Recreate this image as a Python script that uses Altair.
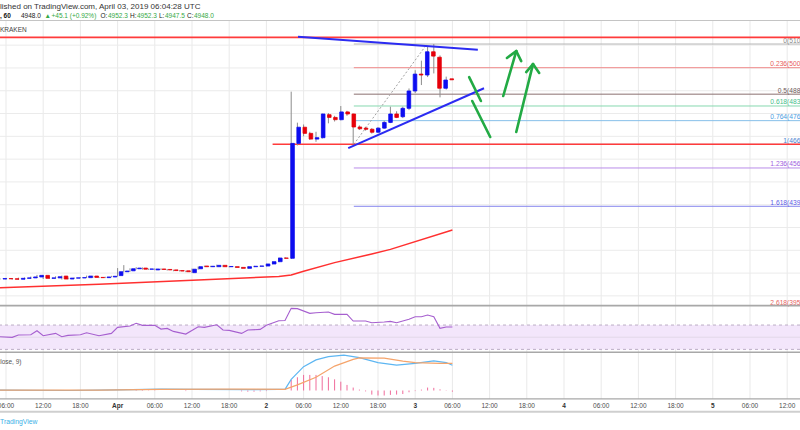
import altair as alt
import pandas as pd
import numpy as np

# ---------------- data (x = hours since 2019-03-31 06:00 UTC, 1 candle / hour) ----------------
hours = list(range(-1, 73))
opens = [4074, 4076, 4075, 4073, 4077, 4079, 4083, 4090, 4077, 4079,
         4087, 4074, 4078, 4079, 4080, 4087, 4081, 4080, 4083, 4089,
         4106, 4110, 4119, 4122, 4117, 4114, 4118, 4116, 4114, 4111,
         4110, 4102, 4119, 4131, 4128, 4128, 4134, 4128, 4128, 4125,
         4121, 4128, 4130, 4131, 4140, 4150, 4166, 4165, 4669, 4740,
         4713, 4688, 4694, 4795, 4783, 4773, 4807, 4798, 4741, 4736,
         4731, 4718, 4736, 4761, 4798, 4786, 4823, 4899, 4973, 4969,
         5071, 5047, 4911, 4952.3]
highs = [4078, 4079, 4078, 4080, 4081, 4085, 4092, 4092, 4081, 4086,
         4089, 4080, 4081, 4082, 4089, 4089, 4083, 4084, 4088, 4122,
         4135, 4121, 4126, 4125, 4120, 4121, 4121, 4118, 4115, 4113,
         4111, 4120, 4129, 4133, 4132, 4137, 4136, 4131, 4130, 4127,
         4130, 4132, 4133, 4141, 4151, 4168, 4170, 4896, 4760, 4752,
         4720, 4720, 4800, 4802, 4790, 4833, 4812, 4800, 4748, 4742,
         4736, 4740, 4768, 4830, 4810, 4830, 4910, 4990, 5032, 5096,
         5105, 5055, 4962, 4952.3]
lows = [4071, 4072, 4071, 4071, 4075, 4077, 4081, 4074, 4075, 4077,
        4072, 4072, 4076, 4077, 4079, 4079, 4078, 4078, 4082, 4085,
        4104, 4106, 4116, 4115, 4114, 4112, 4114, 4111, 4108, 4107,
        4104, 4100, 4115, 4126, 4126, 4126, 4126, 4125, 4123, 4119,
        4119, 4126, 4128, 4129, 4138, 4148, 4163, 4162, 4660, 4700,
        4685, 4676, 4690, 4757, 4765, 4770, 4790, 4665, 4728, 4725,
        4712, 4715, 4733, 4758, 4780, 4780, 4815, 4890, 4925, 4960,
        4976, 4871, 4905, 4947.5]
closes = [4076, 4075, 4073, 4077, 4079, 4083, 4090, 4077, 4079, 4084,
          4074, 4078, 4079, 4080, 4087, 4081, 4080, 4083, 4086, 4106,
          4109, 4119, 4122, 4117, 4118, 4118, 4116, 4114, 4111, 4109,
          4106, 4117, 4128, 4128, 4130, 4134, 4128, 4129, 4125, 4121,
          4128, 4130, 4131, 4140, 4150, 4166, 4165, 4669, 4740, 4713,
          4688, 4694, 4798, 4783, 4773, 4807, 4798, 4741, 4733, 4731,
          4718, 4736, 4761, 4798, 4783, 4823, 4899, 4973, 4969, 5071,
          5052, 4911, 4947, 4948.0]

ma_hours = [-1, 15, 31, 44, 46, 48, 53, 59, 62, 72]
ma_values = [4036, 4051, 4070, 4085, 4092, 4108, 4146, 4184, 4204, 4289]

rsi_hours = [-1, 1, 2, 4, 5, 6, 8, 9, 10, 12, 13, 15, 17, 18, 20, 21, 22, 24, 25, 26,
             27, 29, 31, 32, 34, 35, 36, 38, 39, 41, 42, 44, 45, 46, 47, 49, 50, 52, 53, 55,
             56, 58, 59, 61, 62, 63, 65, 66, 67, 68, 69, 70, 71, 72]
rsi_values = [50.8, 49.8, 53.6, 54, 60.6, 52.4, 56.3, 50.8, 53, 54, 57.3, 52.4, 56.3, 66.2,
              68.4, 72.8, 69.5, 69.5, 63.4, 64.5, 59.6, 55.2, 67.2, 66.2, 70.5, 61.8, 61.2,
              56.3, 61.8, 62.9, 69.5, 77, 77.5, 97.4, 97, 89.2, 90.2, 91.4, 87.6, 87.6, 76.6,
              76.6, 73.8, 74.9, 76, 73.8, 79.4, 83.6, 83.6, 86.4, 83.6, 64.6, 66.7, 66.7]

macd_hours = [-1, 10, 18, 25, 30, 40, 44, 45, 46, 48, 50, 52, 54.5, 57, 60, 63, 66, 69, 71, 72]
macd_values = [1, 0, 2, 5, 4, 3, 4, 4, 38, 81, 104, 115, 120, 112, 95, 86, 92, 101, 95, 86]
signal_hours = [-1, 15, 25, 35, 45, 47, 50, 53, 56, 57, 61, 64, 66, 70, 72]
signal_values = [1, 1, 4, 5, 4, 19, 45, 83, 106, 111, 110, 100, 95, 92, 92]
hist_hours = [21, 22, 23, 24, 29, 38, 39, 40, 41, 42, 46, 47, 48, 49, 50, 51, 52, 53, 54, 55,
              56, 57, 58, 59, 60, 61, 62, 63, 64, 65, 66, 67, 68, 69, 70, 71, 72]
hist_values = [2, 2, -1, 1, -2, -3, -4, -4, -3, -2, 36, 45, 53, 53, 53, 49, 45, 38, 30, 19,
               10, 3, -3, -14, -17, -17, -15, -14, -12, -6, -2, 3, 10, 9, 4, 1, -4]

fib_high, fib_low = 5105.0, 4665.0
fib_ratios = [0, 0.236, 0.5, 0.618, 0.764, 1, 1.236, 1.618, 2.618]
fib_names = ["0", "0.236", "0.5", "0.618", "0.764", "1", "1.236", "1.618", "2.618"]
fib_line_colors = ["#b4b4b4", "#f08a8a", "#8a6f6f", "#86d9b0", "#86bfe9", "#9aa8c8",
                   "#b98ce9", "#8585ee", "#f08080"]
fib_label_colors = ["#8a8a8a", "#e85c5c", "#6e5a5a", "#45c08a", "#4a9edf", "#4a7fd0",
                    "#a05ee0", "#5a5ae6", "#e86060"]
fib_start_hour = 56.1

resistance_prices = [5134, 4665]
resistance_start = [-1.5, 43.0]

# drawn lines: (h1, p1, h2, p2)
blue_lines = [(47.1, 5137, 76.1, 5080), (55.2, 4648, 77.1, 4911)]
green_lines = [(74.7, 4960, 76.6, 4855), (75.2, 4855, 78.1, 4697),
               (80.2, 4877, 82.3, 5074), (82.3, 5074, 80.8, 5044), (82.3, 5074, 83.1, 5030),
               (82.3, 4719, 85.0, 5017), (85.0, 5017, 83.9, 4982), (85.0, 5017, 86.0, 4978)]
fib_diag = [(56.1, 4665, 67.9, 5105)]

tick_hours = list(range(0, 127, 6))
tick_labels = ["06:00", "12:00", "18:00", "Apr", "06:00", "12:00", "18:00", "2",
               "06:00", "12:00", "18:00", "3", "06:00", "12:00", "18:00", "4",
               "06:00", "12:00", "18:00", "5", "06:00", "12:00"]
price_grid = list(range(4000, 5200, 100))

# ---------------- styling ----------------
FONT = "Liberation Sans"
BLUE = "#0d0df0"
RED = "#e6000a"
X_LO, X_HI = -6 / 6.2, 794 / 6.2
xs = alt.Scale(domain=[X_LO, X_HI], nice=False, zero=False)
y_main = alt.Scale(domain=[3960, 5206], range=[305, 21], nice=False, zero=False)
y_rsi = alt.Scale(domain=[25.7, 101.3], range=[352, 306], nice=False, zero=False)
y_macd = alt.Scale(domain=[-28.9, 129.9], range=[399, 352.3], nice=False, zero=False)

dummy = pd.DataFrame({"k": [0]})


def X(f):
    return alt.X(f"{f}:Q", scale=xs, axis=None)


def Y(f, s):
    return alt.Y(f"{f}:Q", scale=s, axis=None)


def txt(s, x, y, size, color, align="left", weight="normal"):
    return alt.Chart(dummy).mark_text(
        text=s, font=FONT, fontSize=size, color=color, align=align,
        baseline="middle", fontWeight=weight
    ).encode(x=alt.value(x), y=alt.value(y))


def hline(y, color, width):
    return alt.Chart(dummy).mark_rule(color=color, strokeWidth=width).encode(
        x=alt.value(0), x2=alt.value(800), y=alt.value(y))


def seg_chart(segs, **mark):
    df = pd.DataFrame(segs, columns=["h1", "p1", "h2", "p2"])
    return alt.Chart(df).mark_rule(**mark).encode(
        x=X("h1"), x2="h2", y=Y("p1", y_main), y2="p2")


layers = []

# grid
layers.append(alt.Chart(pd.DataFrame({"h": tick_hours})).mark_rule(
    color="#e9e9e9", strokeWidth=1).encode(x=X("h"), y=alt.value(21), y2=alt.value(399)))
layers.append(alt.Chart(pd.DataFrame({"p": price_grid})).mark_rule(
    color="#ebebeb", strokeWidth=1).encode(y=Y("p", y_main)))

# fib lines
fdf = pd.DataFrame({
    "name": fib_names,
    "price": [fib_high - r * (fib_high - fib_low) for r in fib_ratios],
    "h1": fib_start_hour, "h2": X_HI + 5,
})
fdf["label"] = [f"{n}({p:.1f})" for n, p in zip(fib_names, fdf["price"])]
layers.append(alt.Chart(fdf[fdf["name"] != "2.618"]).mark_rule(strokeWidth=1).encode(
    x=X("h1"), x2="h2", y=Y("price", y_main),
    color=alt.Color("name:N", scale=alt.Scale(domain=fib_names, range=fib_line_colors), legend=None)))
layers.append(alt.Chart(fdf).mark_text(font=FONT, fontSize=6.7, align="right", baseline="bottom", dy=-0.5).encode(
    x=alt.value(812), y=Y("price", y_main), text="label:N",
    color=alt.Color("name:N", scale=alt.Scale(domain=fib_names, range=fib_label_colors), legend=None)))
layers.append(seg_chart(fib_diag, color="#a0a0a0", strokeWidth=1, strokeDash=[2, 2]))

# resistance lines
rdf = pd.DataFrame({"h1": resistance_start, "h2": [X_HI + 5] * 2, "p": resistance_prices})
layers.append(alt.Chart(rdf).mark_rule(color="#ff3b3b", strokeWidth=1.6).encode(
    x=X("h1"), x2="h2", y=Y("p", y_main)))

# moving average
layers.append(alt.Chart(pd.DataFrame({"h": ma_hours, "v": ma_values})).mark_line(
    color="#ff3030", strokeWidth=1.5).encode(x=X("h"), y=Y("v", y_main)))

# candles
cdf = pd.DataFrame({"h": hours, "o": opens, "hi": highs, "lo": lows, "c": closes})
cdf["dir"] = np.where(cdf["c"] >= cdf["o"], "up", "down")
cdf["b0"] = cdf[["o", "c"]].min(axis=1)
cdf["b1"] = cdf[["o", "c"]].max(axis=1)
dir_scale = alt.Scale(domain=["up", "down"], range=[BLUE, RED])
layers.append(alt.Chart(cdf).mark_rule(color="#8c8c8c", strokeWidth=1).encode(
    x=X("h"), y=Y("lo", y_main), y2="hi"))
layers.append(alt.Chart(cdf).mark_bar(size=3.6, strokeWidth=0.8).encode(
    x=X("h"), y=Y("b0", y_main), y2="b1",
    color=alt.Color("dir:N", scale=dir_scale, legend=None),
    stroke=alt.Stroke("dir:N", scale=dir_scale, legend=None)))

# drawings
layers.append(seg_chart(blue_lines, color="#2b2bf2", strokeWidth=2))
layers.append(seg_chart(green_lines, color="#22aa44", strokeWidth=2.6, strokeCap="round"))

# RSI panel
layers.append(alt.Chart(pd.DataFrame({"lo": [30], "hi": [70]})).mark_rect(color="#f3e6fb").encode(
    x=alt.value(0), x2=alt.value(800), y=Y("lo", y_rsi), y2="hi"))
layers.append(alt.Chart(pd.DataFrame({"v": [30, 70]})).mark_rule(
    color="#bcaec6", strokeWidth=1, strokeDash=[3, 3]).encode(y=Y("v", y_rsi)))
layers.append(alt.Chart(pd.DataFrame({"v": [50]})).mark_rule(
    color="#e2d8e8", strokeWidth=1).encode(y=Y("v", y_rsi)))
layers.append(alt.Chart(pd.DataFrame({"h": rsi_hours, "v": rsi_values})).mark_line(
    color="#a65fcf", strokeWidth=1.1).encode(x=X("h"), y=Y("v", y_rsi)))

# MACD panel
hdf = pd.DataFrame({"h": hist_hours, "v": hist_values, "z": 0})
layers.append(alt.Chart(hdf).mark_rule(color="#f06c9b", strokeWidth=1).encode(
    x=X("h"), y=Y("z", y_macd), y2="v"))
layers.append(alt.Chart(pd.DataFrame({"h": macd_hours, "v": macd_values})).mark_line(
    color="#5db6f2", strokeWidth=1.2).encode(x=X("h"), y=Y("v", y_macd)))
layers.append(alt.Chart(pd.DataFrame({"h": signal_hours, "v": signal_values})).mark_line(
    color="#f5a46b", strokeWidth=1.2).encode(x=X("h"), y=Y("v", y_macd)))
layers.append(txt("MACD (12, 26, close, 9)", 21.5, 362, 6.5, "#555555", align="right"))

# separators
layers.append(hline(20.5, "#c4c4c4", 1.2))
layers.append(hline(305.6, "#a8a8a8", 1.6))
layers.append(hline(352.3, "#a8a8a8", 1.6))
layers.append(hline(398.8, "#a8a8a8", 1.2))
layers.append(hline(411.7, "#cfcfcf", 2))

# time axis labels
tdf = pd.DataFrame({"h": tick_hours, "label": tick_labels})
tdf["day"] = ~tdf["label"].str.contains(":")
layers.append(alt.Chart(tdf[~tdf["day"]]).mark_text(font=FONT, fontSize=6.5, color="#4d4d4d", baseline="middle").encode(
    x=X("h"), y=alt.value(406), text="label:N"))
layers.append(alt.Chart(tdf[tdf["day"]]).mark_text(font=FONT, fontSize=6.5, color="#333333", baseline="middle", fontWeight="bold").encode(
    x=X("h"), y=alt.value(406), text="label:N"))

# header
GREEN = "#35a945"
layers.append(txt("lished on TradingView.com, April 03, 2019 06:04:28 UTC", 0, 7, 8, "#333333"))
layers.append(txt(", 60", 0, 15.5, 6.5, "#111111", weight="bold"))
for s, x, c in [("4948.0", 21, "#222222"), ("▲", 44.5, GREEN), ("+45.1 (+0.92%)", 51.5, GREEN),
                ("O:", 100.5, "#222222"), ("4952.3", 108, GREEN), ("H:", 130, "#222222"),
                ("4952.3", 137, GREEN), ("L:", 159, "#222222"), ("4947.5", 165, GREEN),
                ("C:", 187, "#222222"), ("4948.0", 194, GREEN)]:
    layers.append(txt(s, x, 15.5, 6.5, c))
layers.append(txt("KRAKEN", 0, 29.5, 6.5, "#444444"))
layers.append(txt("TradingView", 0, 421.5, 6.8, "#3bb0e6"))

chart = alt.layer(*layers).resolve_scale(
    x="independent", y="independent", color="independent", stroke="independent"
).properties(
    width=800, height=430, padding=0, autosize=alt.AutoSizeParams(type="none"),
    background="white"
).configure_view(stroke=None)

chart.save("out.html", embed_options={"renderer": "svg", "actions": False})
